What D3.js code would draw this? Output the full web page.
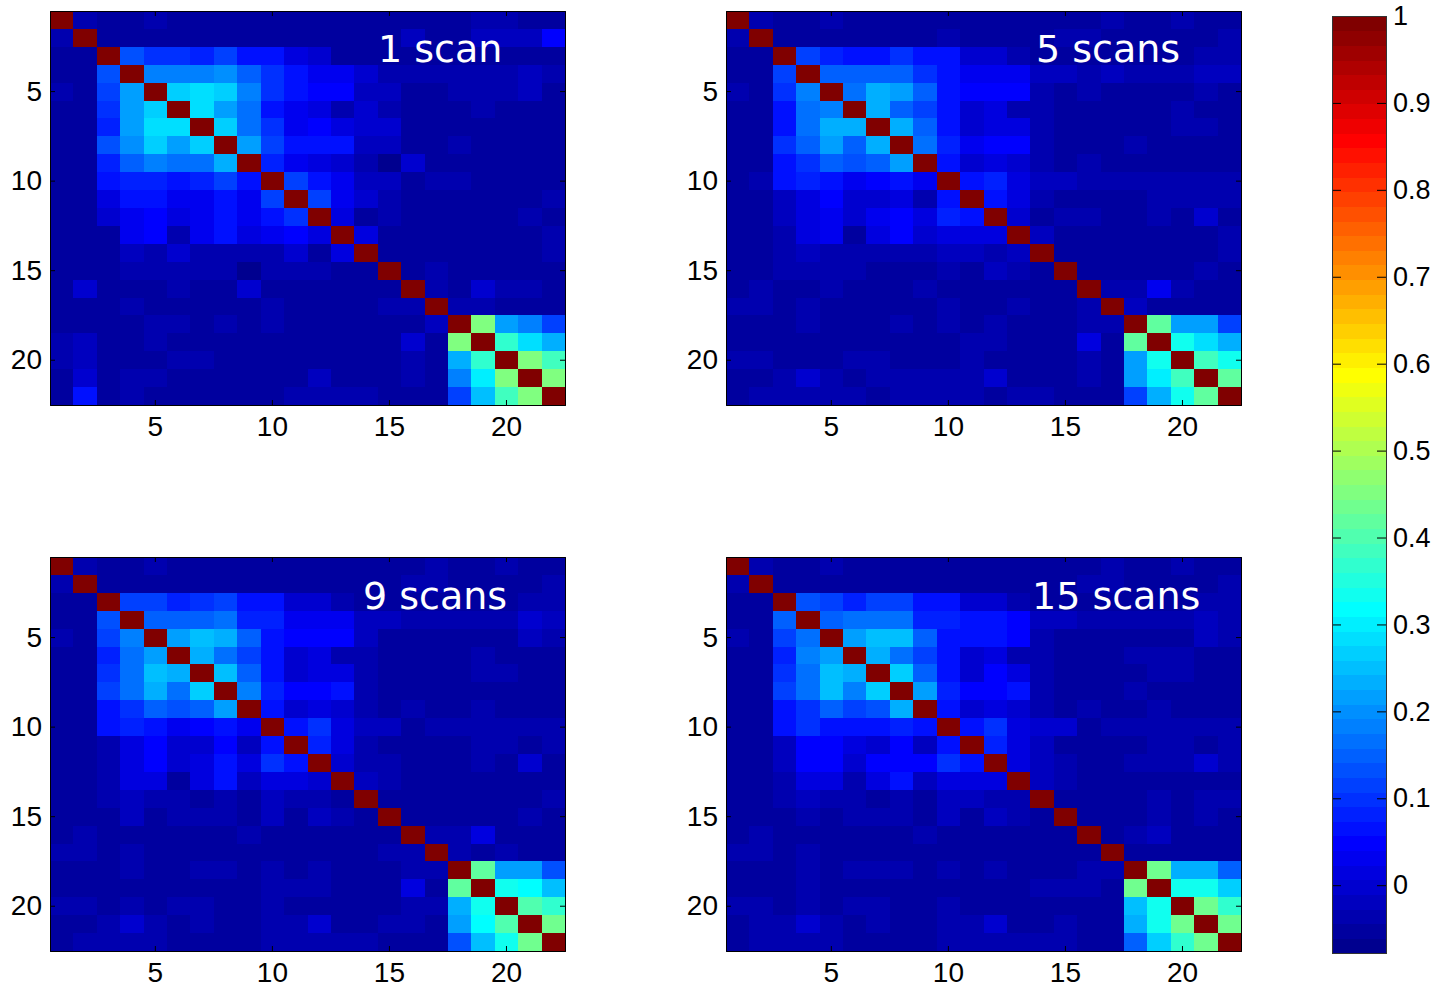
<!DOCTYPE html>
<html>
<head>
<meta charset="utf-8">
<script src="https://cdn.jsdelivr.net/npm/d3@7"></script>
<style>
  body { margin: 0; background: #fff; }
</style>
</head>
<body>
<div id="chart"></div>
<script>
// Region indices, tick values and titles
const regions = [1, 2, 3, 4, 5, 6, 7, 8, 9, 10, 11, 12, 13, 14, 15, 16, 17, 18, 19, 20, 21, 22];
const axisTicks = [5, 10, 15, 20];
const cbTicks = [0, 0.1, 0.2, 0.3, 0.4, 0.5, 0.6, 0.7, 0.8, 0.9, 1];
const titles = ["1 scan", "5 scans", "9 scans", "15 scans"];
const cMin = -0.078, cMax = 1;

// Correlation matrices (rows top to bottom)
const scan1 = [
  [1,-.03,-.05,-.05,-.04,-.05,-.05,-.05,-.05,-.05,-.05,-.05,-.05,-.05,-.05,-.05,-.05,-.05,-.04,-.03,-.05,-.05],
  [-.03,1,-.05,-.05,-.05,-.05,-.05,-.05,-.05,-.05,-.05,-.05,-.05,-.05,-.05,-.02,-.05,-.05,-.02,-.02,-.02,.05],
  [-.05,-.05,1,.13,.1,.1,.08,.12,.06,.06,.02,0,-.05,-.05,-.05,-.05,-.05,-.05,-.05,-.05,-.05,-.05],
  [-.05,-.05,.13,1,.19,.19,.19,.2,.15,.1,.06,.03,.03,0,-.03,-.03,-.03,-.04,-.04,-.04,-.02,-.03],
  [-.04,-.05,.12,.21,1,.26,.28,.26,.19,.1,.07,.05,.05,-.02,-.02,-.05,-.05,-.04,-.04,-.04,-.02,-.05],
  [-.05,-.05,.1,.21,.26,1,.29,.21,.16,.07,.03,.01,-.03,0,-.03,-.05,-.05,-.05,-.04,-.05,-.05,-.05],
  [-.05,-.05,.08,.21,.28,.28,1,.26,.17,.1,.03,.04,.02,-.01,-.01,-.05,-.05,-.05,-.05,-.05,-.05,-.05],
  [-.05,-.05,.13,.2,.26,.21,.27,1,.21,.12,.07,.07,.06,-.02,-.02,-.05,-.05,-.04,-.05,-.05,-.05,-.05],
  [-.05,-.05,.08,.15,.19,.17,.17,.23,1,.08,.03,.02,0,-.03,-.07,0,-.05,-.05,-.05,-.05,-.05,-.05],
  [-.05,-.05,.07,.08,.08,.07,.08,.12,.07,1,.12,.07,.03,-.02,-.02,-.05,-.03,-.04,-.05,-.05,-.05,-.05],
  [-.05,-.05,.01,.06,.07,.03,.03,.06,.03,.12,1,.12,.03,-.01,-.04,-.05,-.05,-.05,-.05,-.05,-.05,-.03],
  [-.05,-.05,0,.03,.04,.02,.03,.06,.03,.07,.1,1,.01,-.05,-.03,-.05,-.05,-.05,-.05,-.05,-.03,-.05],
  [-.05,-.05,-.05,.03,.05,-.04,.03,.06,.02,.03,.05,.02,1,.02,-.05,-.05,-.05,-.05,-.05,-.05,-.05,-.03],
  [-.05,-.05,-.05,-.02,-.03,0,-.03,-.04,-.04,-.03,0,-.05,.01,1,-.05,-.05,-.05,-.05,-.05,-.05,-.05,-.03],
  [-.05,-.05,-.05,-.04,-.03,-.04,-.03,-.04,-.07,-.04,-.04,-.03,-.05,-.05,1,-.05,-.04,-.05,-.05,-.05,-.05,-.05],
  [-.05,-.01,-.05,-.05,-.05,-.04,-.05,-.05,-.01,-.05,-.05,-.05,-.05,-.05,-.05,1,-.04,-.05,0,-.03,-.03,-.05],
  [-.05,-.05,-.05,-.04,-.05,-.05,-.05,-.05,-.05,-.04,-.05,-.05,-.05,-.05,-.04,-.04,1,-.03,-.04,-.05,-.05,-.05],
  [-.05,-.05,-.05,-.05,-.04,-.04,-.05,-.04,-.05,-.04,-.05,-.05,-.05,-.05,-.05,-.05,-.02,1,.46,.21,.19,.12],
  [-.04,-.02,-.05,-.05,-.04,-.05,-.05,-.05,-.05,-.05,-.05,-.05,-.05,-.05,-.05,-.01,-.05,.46,1,.37,.29,.24],
  [-.03,-.02,-.05,-.05,-.05,-.04,-.04,-.05,-.05,-.05,-.05,-.05,-.05,-.05,-.05,-.03,-.05,.23,.37,1,.45,.39],
  [-.05,-.01,-.05,-.03,-.03,-.05,-.05,-.05,-.05,-.05,-.05,-.02,-.05,-.05,-.05,-.03,-.05,.19,.3,.45,1,.46],
  [-.05,.06,-.05,-.03,-.05,-.05,-.05,-.05,-.05,-.05,-.03,-.04,-.03,-.03,-.05,-.05,-.05,.12,.25,.39,.46,1]
];

const scan5 = [
  [1,-.03,-.05,-.05,-.04,-.05,-.05,-.05,-.05,-.05,-.05,-.05,-.05,-.05,-.05,-.05,-.04,-.05,-.05,-.04,-.05,-.05],
  [-.03,1,-.05,-.05,-.05,-.05,-.05,-.05,-.05,-.04,-.05,-.05,-.05,-.05,-.03,-.03,-.05,-.05,-.05,-.05,-.05,-.04],
  [-.05,-.05,1,.12,.08,.07,.07,.1,.07,.07,0,0,-.03,-.05,-.05,-.05,-.05,-.05,-.05,-.05,-.03,-.04],
  [-.05,-.05,.12,1,.15,.15,.15,.15,.1,.07,.03,.03,.03,-.02,-.02,-.04,-.02,-.03,-.03,-.03,-.02,-.02],
  [-.04,-.05,.1,.19,1,.17,.23,.21,.15,.07,.05,.04,.04,-.03,-.05,-.04,-.05,-.05,-.05,-.05,-.03,-.05],
  [-.05,-.05,.07,.17,.19,1,.23,.15,.12,.06,0,.01,-.04,-.03,-.05,-.05,-.05,-.05,-.05,-.04,-.05,-.05],
  [-.05,-.05,.07,.17,.23,.23,1,.23,.15,.06,0,.02,.01,-.04,-.05,-.05,-.05,-.05,-.05,-.03,-.04,-.05],
  [-.05,-.05,.1,.15,.21,.15,.23,1,.17,.08,.03,.04,.04,-.03,-.05,-.05,-.05,-.04,-.05,-.05,-.05,-.05],
  [-.05,-.05,.07,.1,.15,.13,.15,.21,1,.07,-.01,.02,-.01,-.03,-.06,-.03,-.05,-.05,-.05,-.05,-.05,-.05],
  [-.05,-.04,.07,.08,.06,.03,.05,.07,.03,1,.06,.08,.01,-.02,-.02,-.04,-.03,-.03,-.04,-.03,-.03,-.04],
  [-.05,-.05,-.02,.02,.04,0,0,.02,-.03,.06,1,.07,.01,-.03,-.05,-.05,-.05,-.05,-.03,-.04,-.03,-.04],
  [-.05,-.05,-.02,.01,.03,0,.03,.04,.01,.08,.06,1,0,-.05,-.03,-.04,-.05,-.05,-.03,-.05,0,-.05],
  [-.05,-.05,-.04,.01,.03,-.05,.01,.04,0,.01,.01,.01,1,-.02,-.05,-.05,-.05,-.05,-.05,-.05,-.05,-.04],
  [-.05,-.05,-.04,-.02,-.04,-.03,-.04,-.03,-.04,-.02,-.02,-.04,-.02,1,-.05,-.05,-.05,-.05,-.05,-.05,-.05,-.03],
  [-.05,-.05,-.03,-.04,-.04,-.04,-.05,-.05,-.06,-.03,-.06,-.02,-.04,-.05,1,-.05,-.05,-.05,-.05,-.05,-.04,-.05],
  [-.05,-.03,-.05,-.05,-.04,-.05,-.05,-.05,-.03,-.05,-.05,-.05,-.05,-.05,-.05,1,-.03,-.03,.03,-.04,-.05,-.05],
  [-.03,-.03,-.05,-.03,-.05,-.05,-.05,-.05,-.05,-.04,-.05,-.05,-.04,-.05,-.05,-.04,1,-.02,-.05,-.05,-.05,-.05],
  [-.05,-.05,-.05,-.04,-.05,-.05,-.05,-.04,-.05,-.04,-.05,-.04,-.05,-.05,-.05,-.04,-.03,1,.42,.21,.21,.12],
  [-.05,-.05,-.05,-.05,-.05,-.05,-.05,-.05,-.05,-.05,-.04,-.04,-.05,-.05,-.05,.02,-.05,.42,1,.33,.28,.23],
  [-.04,-.04,-.05,-.05,-.05,-.04,-.03,-.05,-.05,-.05,-.04,-.05,-.05,-.05,-.05,-.04,-.05,.21,.33,1,.39,.33],
  [-.05,-.05,-.03,-.01,-.03,-.05,-.03,-.04,-.04,-.04,-.04,0,-.05,-.05,-.05,-.04,-.05,.21,.3,.39,1,.42],
  [-.05,-.03,-.03,-.03,-.04,-.04,-.05,-.04,-.04,-.04,-.03,-.05,-.04,-.03,-.05,-.05,-.05,.12,.23,.33,.42,1]
];

const scan9 = [
  [1,-.03,-.05,-.05,-.04,-.05,-.05,-.05,-.05,-.05,-.05,-.05,-.05,-.05,-.05,-.05,-.04,-.05,-.05,-.04,-.05,-.05],
  [-.03,1,-.05,-.05,-.05,-.05,-.05,-.05,-.05,-.05,-.05,-.05,-.05,-.05,-.05,-.04,-.04,-.05,-.05,-.05,-.05,-.04],
  [-.05,-.05,1,.12,.12,.08,.1,.12,.07,.07,-.01,-.01,-.04,-.05,-.05,-.05,-.05,-.05,-.05,-.05,-.03,-.04],
  [-.05,-.05,.13,1,.15,.15,.15,.17,.08,.08,.03,.03,.03,-.02,-.02,-.04,-.03,-.04,-.04,-.04,-.01,-.02],
  [-.04,-.05,.12,.19,1,.21,.25,.23,.15,.07,.05,.05,.04,-.02,-.05,-.05,-.05,-.05,-.05,-.05,-.02,-.04],
  [-.05,-.05,.08,.17,.21,1,.23,.17,.12,.06,0,.01,-.03,-.04,-.05,-.05,-.05,-.05,-.03,-.05,-.05,-.05],
  [-.05,-.05,.1,.17,.25,.23,1,.25,.15,.06,0,.02,.01,-.04,-.05,-.05,-.05,-.05,-.03,-.04,-.05,-.05],
  [-.05,-.05,.12,.17,.23,.17,.26,1,.19,.08,.04,.04,.06,-.03,-.05,-.05,-.05,-.05,-.05,-.05,-.05,-.05],
  [-.05,-.05,.07,.1,.15,.13,.15,.21,1,.07,-.01,.02,-.01,-.03,-.06,-.03,-.05,-.05,-.04,-.05,-.05,-.05],
  [-.05,-.05,.07,.08,.06,.03,.05,.07,.03,1,.06,.1,.01,-.02,-.02,-.05,-.04,-.04,-.03,-.04,-.03,-.04],
  [-.05,-.05,-.03,.02,.04,-.01,-.01,.04,-.02,.06,1,.08,.01,-.03,-.05,-.05,-.05,-.05,-.03,-.04,-.05,-.04],
  [-.05,-.05,-.03,.02,.04,-.01,.02,.06,.01,.1,.07,1,0,-.03,-.03,-.05,-.05,-.05,-.03,-.05,0,-.05],
  [-.05,-.05,-.04,.02,.02,-.05,.01,.06,-.02,.01,.01,0,1,-.02,-.03,-.05,-.05,-.05,-.05,-.05,-.05,-.05],
  [-.05,-.05,-.04,-.02,-.04,-.04,-.05,-.04,-.05,-.02,-.03,-.04,-.05,1,-.05,-.05,-.05,-.05,-.05,-.05,-.05,-.03],
  [-.05,-.05,-.05,-.02,-.05,-.04,-.04,-.04,-.06,-.02,-.06,-.02,-.04,-.05,1,-.05,-.05,-.05,-.05,-.05,-.04,-.05],
  [-.05,-.03,-.05,-.05,-.05,-.05,-.05,-.05,-.03,-.05,-.05,-.05,-.05,-.05,-.05,1,-.04,-.03,.01,-.05,-.05,-.05],
  [-.03,-.03,-.05,-.03,-.05,-.05,-.05,-.05,-.05,-.05,-.05,-.05,-.05,-.05,-.04,-.04,1,-.03,-.05,-.04,-.05,-.05],
  [-.05,-.05,-.05,-.03,-.05,-.05,-.04,-.04,-.05,-.04,-.05,-.04,-.05,-.05,-.05,-.04,-.03,1,.42,.21,.21,.13],
  [-.05,-.05,-.05,-.05,-.05,-.05,-.05,-.05,-.05,-.04,-.04,-.03,-.05,-.05,-.05,.01,-.05,.42,1,.33,.31,.25],
  [-.03,-.04,-.05,-.04,-.05,-.03,-.03,-.05,-.05,-.04,-.05,-.05,-.05,-.05,-.05,-.04,-.04,.24,.33,1,.4,.36],
  [-.05,-.05,-.03,-.01,-.03,-.05,-.03,-.05,-.05,-.04,-.04,0,-.05,-.05,-.04,-.04,-.05,.21,.32,.4,1,.43],
  [-.05,-.03,-.04,-.03,-.04,-.05,-.05,-.05,-.05,-.03,-.04,-.04,-.04,-.03,-.05,-.05,-.05,.13,.25,.34,.43,1]
];

const scan15 = [
  [1,-.03,-.05,-.05,-.04,-.05,-.05,-.05,-.05,-.05,-.05,-.05,-.05,-.05,-.05,-.05,-.04,-.05,-.05,-.04,-.05,-.05],
  [-.03,1,-.05,-.05,-.05,-.05,-.05,-.05,-.05,-.05,-.05,-.05,-.05,-.05,-.05,-.04,-.04,-.05,-.05,-.05,-.05,-.03],
  [-.05,-.05,1,.13,.12,.08,.12,.12,.07,.07,-.01,-.01,-.04,-.05,-.05,-.05,-.05,-.05,-.05,-.05,-.03,-.04],
  [-.05,-.05,.15,1,.15,.17,.17,.17,.08,.08,.07,.07,.04,-.02,-.02,-.04,-.03,-.04,-.04,-.04,-.02,-.03],
  [-.04,-.05,.12,.17,1,.21,.25,.25,.15,.06,.06,.06,.05,-.03,-.05,-.05,-.05,-.05,-.05,-.05,-.02,-.04],
  [-.05,-.05,.08,.19,.21,1,.23,.17,.12,.06,0,.01,-.03,-.04,-.05,-.05,-.05,-.04,-.03,-.04,-.05,-.05],
  [-.05,-.05,.1,.17,.25,.23,1,.26,.15,.06,-.01,.04,.01,-.04,-.05,-.05,-.05,-.05,-.03,-.03,-.05,-.05],
  [-.05,-.05,.12,.17,.25,.19,.27,1,.21,.08,.04,.04,.06,-.03,-.05,-.05,-.05,-.04,-.05,-.05,-.05,-.05],
  [-.05,-.05,.07,.1,.15,.12,.13,.23,1,.07,-.01,.02,-.01,-.03,-.06,-.03,-.05,-.05,-.04,-.05,-.05,-.05],
  [-.05,-.05,.07,.1,.07,.07,.07,.08,.07,1,.07,.1,.02,-.01,-.01,-.05,-.03,-.04,-.03,-.03,-.03,-.03],
  [-.05,-.05,-.02,.05,.05,.01,-.01,.04,-.02,.07,1,.08,.01,-.02,-.05,-.05,-.05,-.05,-.03,-.04,-.05,-.04],
  [-.05,-.05,-.02,.05,.05,0,.05,.05,.05,.1,.07,1,.02,-.02,-.03,-.05,-.05,-.03,-.03,-.03,0,-.04],
  [-.05,-.05,-.04,.02,.02,-.04,.01,.06,-.02,.02,.01,.02,1,-.02,-.03,-.05,-.05,-.05,-.05,-.05,-.05,-.05],
  [-.05,-.05,-.04,-.02,-.03,-.03,-.05,-.04,-.05,-.02,-.02,-.04,-.04,1,-.05,-.05,-.05,-.05,-.04,-.05,-.04,-.03],
  [-.05,-.05,-.05,-.04,-.05,-.04,-.04,-.04,-.06,-.02,-.06,-.02,-.04,-.05,1,-.05,-.05,-.05,-.04,-.05,-.03,-.05],
  [-.05,-.04,-.05,-.05,-.05,-.05,-.05,-.05,-.03,-.05,-.05,-.05,-.05,-.05,-.05,1,-.05,-.04,-.02,-.05,-.05,-.05],
  [-.03,-.03,-.05,-.04,-.05,-.05,-.05,-.05,-.05,-.05,-.05,-.05,-.05,-.05,-.05,-.05,1,-.05,-.05,-.05,-.05,-.05],
  [-.05,-.05,-.05,-.03,-.05,-.04,-.04,-.04,-.05,-.03,-.05,-.03,-.05,-.05,-.05,-.04,-.04,1,.43,.24,.23,.15],
  [-.05,-.05,-.05,-.04,-.05,-.05,-.05,-.05,-.05,-.05,-.05,-.05,-.05,-.04,-.04,-.03,-.05,.43,1,.33,.33,.27],
  [-.03,-.04,-.05,-.04,-.05,-.03,-.03,-.05,-.05,-.04,-.05,-.05,-.05,-.05,-.05,-.05,-.05,.25,.34,1,.43,.36],
  [-.05,-.04,-.04,-.01,-.03,-.05,-.04,-.05,-.05,-.04,-.04,-.01,-.05,-.05,-.04,-.05,-.05,.23,.34,.43,1,.44],
  [-.05,-.03,-.04,-.03,-.04,-.05,-.05,-.05,-.05,-.03,-.04,-.04,-.04,-.04,-.03,-.05,-.05,.15,.27,.36,.44,1]
];

// MATLAB style jet colormap with m levels
function jet(m) {
  const n = Math.ceil(m / 4);
  const u = d3.range(1, n + 1).map(k => k / n)
    .concat(d3.range(n - 1).map(() => 1))
    .concat(d3.range(n, 0, -1).map(k => k / n));
  const off = Math.ceil(n / 2) - (m % 4 === 1 ? 1 : 0);
  const at = k => (k >= 1 && k <= u.length) ? u[k - 1] : 0;
  return d3.range(1, m + 1).map(j =>
    d3.rgb(255 * at(j - off - n), 255 * at(j - off), 255 * at(j - off + n)).formatHex());
}

const color = d3.scaleQuantize().domain([cMin, cMax]).range(jet(64));

const svg = d3.select("#chart")
  .append("svg")
    .attr("width", 1435)
    .attr("height", 987);

const pw = 515, ph = 394;
const tickFont = "'Liberation Sans', Arial, sans-serif";

const panels = [
  {data: scan1, title: titles[0], x0: 50, y0: 11, tx: 378, ty: 62},
  {data: scan5, title: titles[1], x0: 726, y0: 11, tx: 1036, ty: 62},
  {data: scan9, title: titles[2], x0: 50, y0: 557, tx: 363, ty: 609},
  {data: scan15, title: titles[3], x0: 726, y0: 557, tx: 1032, ty: 609}
];

panels.forEach(p => {
  const g = svg.append("g")
    .attr("transform", `translate(${p.x0},${p.y0})`);

  const x = d3.scaleBand().domain(regions).range([0, pw]);
  const y = d3.scaleBand().domain(regions).range([0, ph]);

  // Cells
  p.data.forEach((row, i) => {
    g.append("g").selectAll("rect")
      .data(row)
      .join("rect")
        .attr("x", (d, j) => x(regions[j]))
        .attr("y", y(regions[i]))
        .attr("width", x.bandwidth() + 0.6)
        .attr("height", y.bandwidth() + 0.6)
        .attr("fill", d => color(d))
        .attr("shape-rendering", "crispEdges");
  });

  // Title
  g.append("text")
    .attr("x", p.tx - p.x0)
    .attr("y", p.ty - p.y0)
    .attr("fill", "#fff")
    .style("font-family", "'DejaVu Sans', Verdana, sans-serif")
    .style("font-size", "38px")
    .text(p.title);

  // Axes with inward ticks, box on
  const bottom = g.append("g")
    .attr("transform", `translate(0,${ph})`)
    .call(d3.axisBottom(x).tickValues(axisTicks).tickSizeInner(-5).tickSizeOuter(0).tickPadding(11));
  const left = g.append("g")
    .call(d3.axisLeft(y).tickValues(axisTicks).tickSizeInner(-5).tickSizeOuter(0).tickPadding(8));
  g.append("g")
    .call(d3.axisTop(x).tickValues(axisTicks).tickSizeInner(-5).tickSizeOuter(0).tickFormat(""));
  g.append("g")
    .attr("transform", `translate(${pw},0)`)
    .call(d3.axisRight(y).tickValues(axisTicks).tickSizeInner(-5).tickSizeOuter(0).tickFormat(""));

  [bottom, left].forEach(a => a.selectAll("text")
    .style("font-family", tickFont)
    .style("font-size", "28px")
    .attr("fill", "#000"));
});

// Colorbar
const cb = {x: 1332, w: 54, top: 16, bottom: 953};
const cy = d3.scaleLinear().domain([cMin, cMax]).range([cb.bottom, cb.top]);

svg.append("g").selectAll("rect")
  .data(color.range())
  .join("rect")
    .attr("x", cb.x)
    .attr("y", c => cy(color.invertExtent(c)[1]))
    .attr("width", cb.w)
    .attr("height", c => cy(color.invertExtent(c)[0]) - cy(color.invertExtent(c)[1]) + 0.6)
    .attr("fill", c => c)
    .attr("shape-rendering", "crispEdges");

const cbRight = svg.append("g")
  .attr("transform", `translate(${cb.x + cb.w},0)`)
  .call(d3.axisRight(cy).tickValues(cbTicks).tickSizeInner(-9).tickSizeOuter(0).tickPadding(7)
    .tickFormat(d3.format("~g")));
cbRight.selectAll("text")
  .style("font-family", tickFont)
  .style("font-size", "27px")
  .attr("fill", "#000");
svg.append("g")
  .attr("transform", `translate(${cb.x},0)`)
  .call(d3.axisLeft(cy).tickValues(cbTicks).tickSizeInner(-9).tickSizeOuter(0).tickFormat(""));

// Colorbar box
svg.append("rect")
  .attr("x", cb.x + 0.5)
  .attr("y", cb.top + 0.5)
  .attr("width", cb.w)
  .attr("height", cb.bottom - cb.top)
  .attr("fill", "none")
  .attr("stroke", "#333");
</script>
</body>
</html>
